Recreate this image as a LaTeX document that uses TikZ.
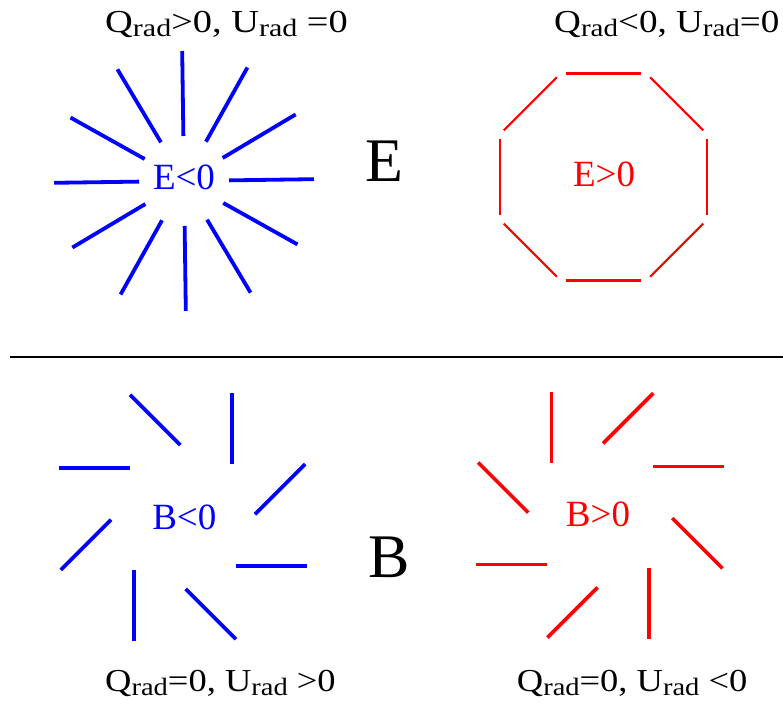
\documentclass[tikz,border=0pt]{standalone}
\usepackage{fontspec}
\setmainfont{Liberation Serif}
\usepackage{tikz}
\usetikzlibrary{positioning}

\newcommand{\radsub}{\raisebox{-4pt}{\fontsize{25}{25}\selectfont rad}}

\tikzset{
  spoke/.style={line width=3.6pt},
  octedge/.style={red, line width=2.2pt, shorten <=5.3pt, shorten >=5.3pt},
  mode/.style={inner sep=0pt, anchor=base, font=\fontsize{37}{40}\selectfont},
  big/.style={inner sep=0pt, anchor=base, font=\fontsize{62}{66}\selectfont},
  qu/.style={inner sep=0pt, anchor=base west, font=\fontsize{32}{34}\selectfont}
}

\begin{document}
\begin{tikzpicture}[x=1pt, y=1pt]
\useasboundingbox (0,0) rectangle (783,709);

\coordinate (Estar) at (184,528);
\coordinate (Eoct) at (603.5,532);
\coordinate (Bneg) at (183,192);
\coordinate (Bpos) at (600.3,193.6);

% E modes
\foreach \a in {0,30,...,330}
  \draw[spoke, blue, line width=3.8pt] (Estar) ++({\a+0.8}:45) -- ++({\a+0.8}:85);
\foreach \a in {22.5,67.5,...,337.5}
  \draw[octedge] ([shift={(\a:112)}]Eoct) -- ([shift={({\a+45}:112)}]Eoct);

\node[mode, blue] (Eneg) at (184,519) {E<0};
\node[mode, red] (Epos) at (604,522.3) {E>0};
\node[big] (Elabel) at (384,527.3) {E};

\draw[line width=2.5pt] (10,352) coordinate (ruleL) -- (783,352) coordinate (ruleR);

% B modes
\foreach \m in {16,61,...,331}
  \draw[spoke, blue] (Bneg) ++(\m:101) ++({\m+209}:35.5) -- ++({\m+29}:71);
\foreach \m in {29,74,...,344}
  \draw[spoke, red] (Bpos) ++(\m:101) ++({\m+151}:35.5) -- ++({\m-29}:71);

\node[mode, blue] (BnegText) at (184.3,179) {B<0};
\node[mode, red] (BposText) at (598,182.3) {B>0};
\node[big] (Blabel) at (388.7,131.7) {B};

% Stokes parameters
\node[qu, xscale=1.2] (QUtl) at (105,676.5) {Q\radsub>0, U\radsub{} =0};
\node[qu, xscale=1.16] (QUtr) at (554,676) {Q\radsub<0, U\radsub=0};
\node[qu, xscale=1.14] (QUbl) at (105,17.3) {Q\radsub=0, U\radsub{} >0};
\node[qu, xscale=1.14] (QUbr) at (516.7,17.3) {Q\radsub=0, U\radsub{} <0};
\end{tikzpicture}
\end{document}
